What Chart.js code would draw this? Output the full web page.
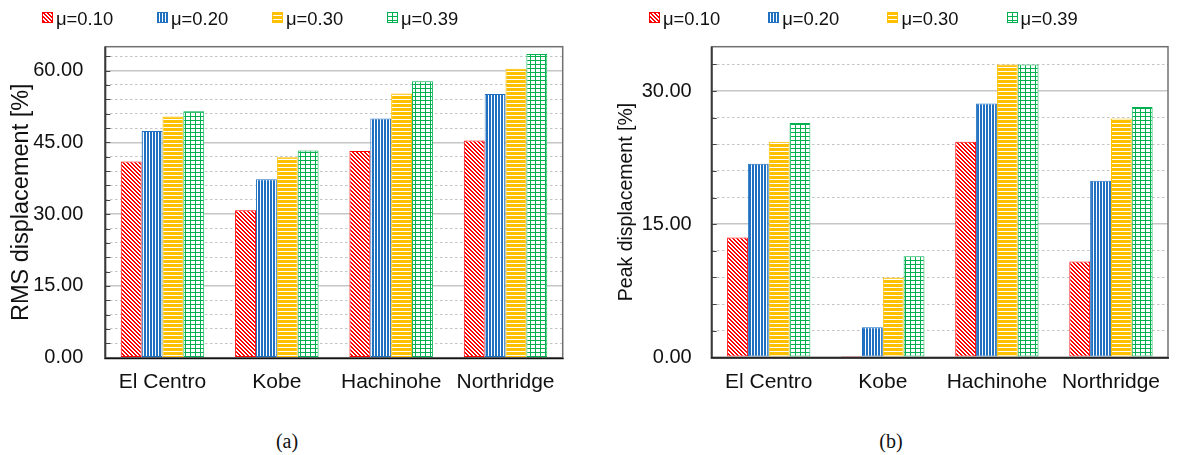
<!DOCTYPE html>
<html>
<head>
<meta charset="utf-8">
<script src="https://cdn.jsdelivr.net/npm/chart.js@4.4.1/dist/chart.umd.min.js"></script>
<style>
  html, body { margin: 0; padding: 0; background: #fff; }
  #page { position: relative; width: 1177px; height: 455px; overflow: hidden;
          font-family: "Liberation Sans", Arial, sans-serif; color: #111; }
  #page canvas.chart { position: absolute; top: 0; }
  .swatch { position: absolute; top: 12px; }
  .legend-text { position: absolute; top: 9px; font-size: 18.4px; line-height: 20px; white-space: nowrap; }
  .caption { position: absolute; top: 431px; font-family: "Liberation Serif", serif; font-size: 20px;
             line-height: 20px; transform: translateX(-50%); }
</style>
</head>
<body>
<div id="page">
  <canvas id="rmsChart" class="chart" width="590" height="405" style="left:0px"></canvas>
  <canvas id="peakChart" class="chart" width="587" height="405" style="left:590px"></canvas>
  <div class="caption" style="left:287px">(a)</div>
  <div class="caption" style="left:891px">(b)</div>
</div>
<script>
// Earthquake records on the x axis
const categories = ['El Centro', 'Kobe', 'Hachinohe', 'Northridge'];
// Friction coefficient series
const frictionLabels = ['μ=0.10', 'μ=0.20', 'μ=0.30', 'μ=0.39'];

// (a) RMS displacement [%]
const rmsMu010 = [41.0, 30.8, 43.2, 45.4];
const rmsMu020 = [47.4, 37.3, 50.0, 55.1];
const rmsMu030 = [50.4, 41.9, 55.2, 60.4];
const rmsMu039 = [51.5, 43.3, 57.8, 63.5];

// (b) Peak displacement [%]
const peakMu010 = [13.5, 0.15, 24.3, 10.8];
const peakMu020 = [21.8, 3.4, 28.6, 19.9];
const peakMu030 = [24.3, 9.0, 33.0, 26.9];
const peakMu039 = [26.4, 11.4, 33.0, 28.2];

// Axis ticks
const rmsMajorTicks = [0, 15, 30, 45, 60];
const peakMajorTicks = [0, 15, 30];
const minorStep = 3;

const FONT = '"Liberation Sans", Arial, sans-serif';
const seriesColors = ['#ff0000', '#1f70c1', '#ffc000', '#00b050'];

// Hatch tiles: diagonal, vertical, horizontal, grid
function makeTile(w, h, color, on) {
  const c = document.createElement('canvas');
  c.width = w; c.height = h;
  const g = c.getContext('2d');
  g.fillStyle = '#ffffff';
  g.fillRect(0, 0, w, h);
  g.fillStyle = color;
  for (let y = 0; y < h; y++) for (let x = 0; x < w; x++) if (on(x, y)) g.fillRect(x, y, 1, 1);
  return c;
}
const tiles = [
  makeTile(4, 4, seriesColors[0], (x, y) => ((x - y + 8) % 4) < 2),
  makeTile(3, 1, seriesColors[1], (x) => x < 2),
  makeTile(1, 4, seriesColors[2], (x, y) => y < 3),
  makeTile(5, 4, seriesColors[3], (x, y) => x === 0 || y === 0)
];
const patternCtx = document.createElement('canvas').getContext('2d');
const patterns = tiles.map(t => patternCtx.createPattern(t, 'repeat'));

function tickList(maxMinor) {
  const out = [];
  for (let v = 0; v <= maxMinor; v += minorStep) out.push(v);
  return out;
}

// Plot frame and inward tick marks
const framePlugin = {
  id: 'frame',
  afterDatasetsDraw(chart) {
    const { ctx, chartArea: a, scales: { y } } = chart;
    ctx.save();
    ctx.strokeStyle = '#444';
    ctx.lineWidth = 1;
    y.ticks.forEach(t => {
      const py = Math.round(y.getPixelForValue(t.value)) + 0.5;
      ctx.beginPath();
      ctx.moveTo(a.left, py);
      ctx.lineTo(a.left + 5, py);
      ctx.stroke();
    });
    ctx.strokeStyle = '#707070';
    ctx.lineWidth = 1.5;
    ctx.strokeRect(a.left, a.top, a.right - a.left, a.bottom - a.top);
    ctx.lineWidth = 2;
    ctx.strokeStyle = '#3a3a3a';
    ctx.beginPath(); ctx.moveTo(a.left, a.top); ctx.lineTo(a.left, a.bottom); ctx.stroke();
    ctx.lineWidth = 1.5;
    ctx.strokeStyle = '#111';
    ctx.beginPath(); ctx.moveTo(a.left - 1, a.bottom + 0.75); ctx.lineTo(a.right + 1, a.bottom + 0.75); ctx.stroke();
    ctx.restore();
  }
};

function buildChart(id, seriesValues, cfg) {
  const ticks = tickList(cfg.maxMinor);
  const isMajor = v => cfg.majors.includes(v);
  return new Chart(document.getElementById(id), {
    type: 'bar',
    data: {
      labels: categories,
      datasets: seriesValues.map((vals, i) => ({
        label: frictionLabels[i],
        data: vals,
        backgroundColor: patterns[i],
        borderColor: seriesColors[i],
        borderWidth: 1,
        borderSkipped: false,
        barPercentage: 1.0,
        categoryPercentage: 0.73
      }))
    },
    options: {
      responsive: false,
      animation: false,
      devicePixelRatio: 1,
      layout: { padding: { left: 0, right: cfg.rightPad, top: 46.7, bottom: 0 } },
      plugins: { legend: { display: false }, tooltip: { enabled: false } },
      scales: {
        x: {
          grid: { display: false, drawTicks: false },
          border: { display: false },
          ticks: { color: '#111', padding: 12, font: { family: FONT, size: 21 } },
          afterFit: s => { s.height = cfg.xHeight; }
        },
        y: {
          min: 0,
          max: cfg.max,
          afterBuildTicks: s => { s.ticks = ticks.map(v => ({ value: v })); },
          ticks: {
            autoSkip: false,
            color: '#111',
            padding: cfg.tickPad,
            font: { family: FONT, size: 20 },
            callback: v => (isMajor(v) ? v.toFixed(2) : '')
          },
          grid: {
            drawTicks: false,
            color: c => (isMajor(c.tick.value) ? '#c6c6c6' : '#c4c4c4'),
            lineWidth: c => (isMajor(c.tick.value) ? 1.6 : 1)
          },
          border: { display: false, dash: c => (isMajor(c.tick.value) ? [] : [2.5, 2.5]) },
          title: {
            display: true,
            text: cfg.title,
            color: '#111',
            font: { family: FONT, size: cfg.titleSize },
            padding: { top: cfg.titlePad, bottom: 0 }
          },
          afterFit: s => { s.width = cfg.yWidth; }
        }
      }
    },
    plugins: [framePlugin]
  });
}

buildChart('rmsChart', [rmsMu010, rmsMu020, rmsMu030, rmsMu039], {
  max: 65, maxMinor: 63, majors: rmsMajorTicks, title: 'RMS displacement [%]',
  titleSize: 23.5, titlePad: 7.9, tickPad: 22, yWidth: 105.3, rightPad: 27.3, xHeight: 47.3
});
buildChart('peakChart', [peakMu010, peakMu020, peakMu030, peakMu039], {
  max: 35, maxMinor: 33, majors: peakMajorTicks, title: 'Peak displacement [%]',
  titleSize: 19.5, titlePad: 25.3, tickPad: 20, yWidth: 121.7, rightPad: 9, xHeight: 47.7
});

// Legends above each panel
function buildLegend(startX, spacing) {
  const page = document.getElementById('page');
  frictionLabels.forEach((txt, i) => {
    const x = startX + i * spacing;
    const sw = document.createElement('canvas');
    sw.className = 'swatch';
    sw.width = 11; sw.height = 11;
    sw.style.left = x + 'px';
    const g = sw.getContext('2d');
    g.fillStyle = patterns[i];
    g.fillRect(0, 0, 11, 11);
    g.strokeStyle = seriesColors[i];
    g.lineWidth = 1;
    g.strokeRect(0.5, 0.5, 10, 10);
    page.appendChild(sw);
    const t = document.createElement('div');
    t.className = 'legend-text';
    t.style.left = (x + 14) + 'px';
    t.textContent = txt;
    page.appendChild(t);
  });
}
buildLegend(42, 115);
buildLegend(649, 119.2);
</script>
</body>
</html>
